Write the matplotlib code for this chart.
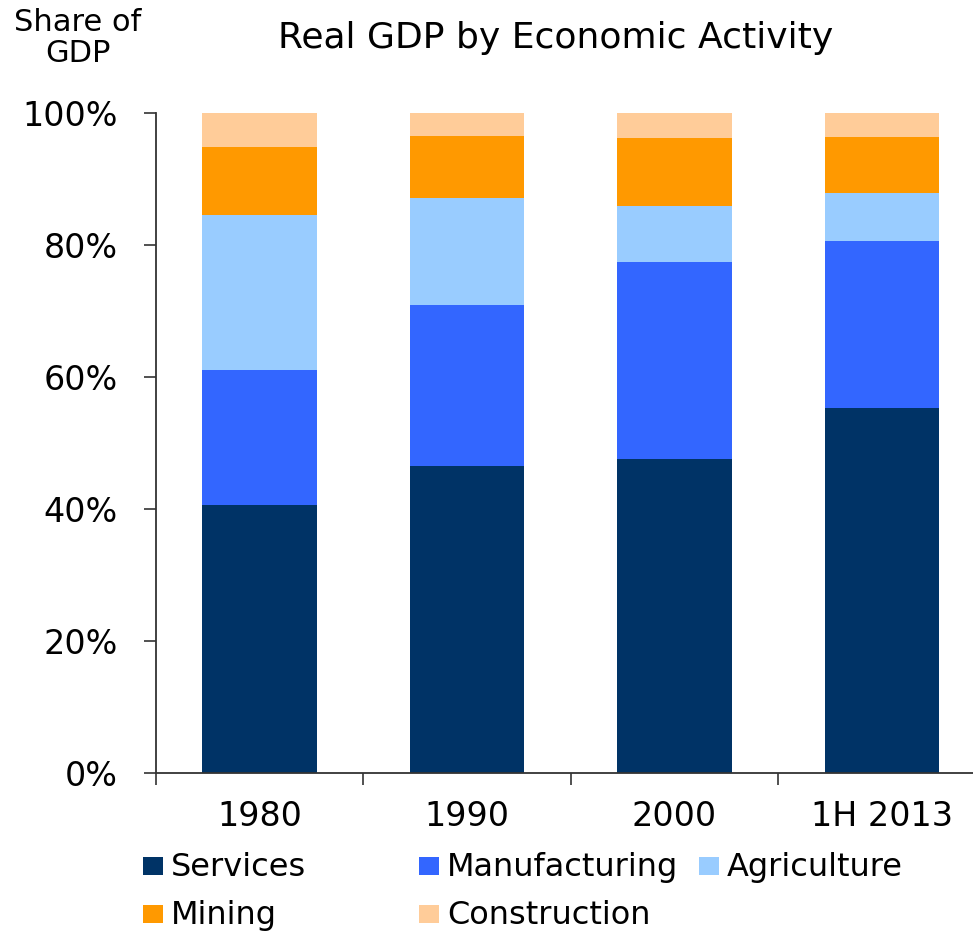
import matplotlib
matplotlib.use("Agg")
import matplotlib.pyplot as plt
import numpy as np
from matplotlib.patches import Rectangle
from matplotlib.ticker import FuncFormatter

# Sector shares of real GDP (%)
periods = ["1980", "1990", "2000", "1H 2013"]
services = [40.7, 46.5, 47.6, 55.4]
manufacturing = [20.4, 24.5, 29.9, 25.2]
agriculture = [23.5, 16.1, 8.5, 7.3]
mining = [10.3, 9.5, 10.2, 8.5]
construction = [5.1, 3.4, 3.8, 3.6]

sectors = ["Services", "Manufacturing", "Agriculture", "Mining", "Construction"]
colors = ["#003366", "#3366FF", "#99CCFF", "#FF9900", "#FFCC99"]

plt.rcParams["font.family"] = ["DejaVu Sans"]

W, H = 973, 934
fig = plt.figure(figsize=(W / 100, H / 100), dpi=100)
ax = fig.add_axes([155.7 / W, (H - 773.3) / H, 830 / W, 660 / H])

x = np.arange(len(periods))
bottom = np.zeros(len(periods))
for vals, col in zip([services, manufacturing, agriculture, mining, construction], colors):
    ax.bar(x, vals, width=0.553, bottom=bottom, color=col, linewidth=0)
    bottom += np.array(vals)

ax.set_xlim(-0.5, 3.5)
ax.set_ylim(0, 100)
ax.set_yticks(np.arange(0, 101, 20))
ax.yaxis.set_major_formatter(FuncFormatter(lambda v, p: f"{v:.0f}%"))

# category labels at bar centres, tick marks between categories
ax.set_xticks(x)
ax.set_xticklabels(periods)
ax.set_xticks(np.arange(-0.5, 3.6, 1), minor=True)
ax.tick_params(axis="x", which="major", length=0, pad=19, labelsize=24)
ax.tick_params(axis="x", which="minor", length=8.6, width=1.2, direction="out", color="#333333")
ax.tick_params(axis="y", length=8.6, width=1.2, direction="out", pad=18.5, labelsize=24, color="#333333")

for s in ["top", "right"]:
    ax.spines[s].set_visible(False)
for s in ["left", "bottom"]:
    ax.spines[s].set_color("#333333")
    ax.spines[s].set_linewidth(1.3)

fig.text(556 / W, 1 - 38 / H, "Real GDP by Economic Activity", ha="center", va="center", fontsize=26)
fig.text(78 / W, 1 - 38 / H, "Share of\nGDP", ha="center", va="center", fontsize=22, linespacing=1.05)

# legend laid out in two rows
legend_pos = [(143, 876), (419, 876), (699, 876), (143, 924), (419, 924)]
for name, col, (lx, ly) in zip(sectors, colors, legend_pos):
    fig.add_artist(Rectangle((lx / W, 1 - (ly - 1) / H), 20 / W, 18 / H,
                             transform=fig.transFigure, facecolor=col, edgecolor="none"))
    fig.text((lx + 28) / W, 1 - ly / H, name, ha="left", va="baseline", fontsize=23)

fig.savefig("out.png", dpi=100)
